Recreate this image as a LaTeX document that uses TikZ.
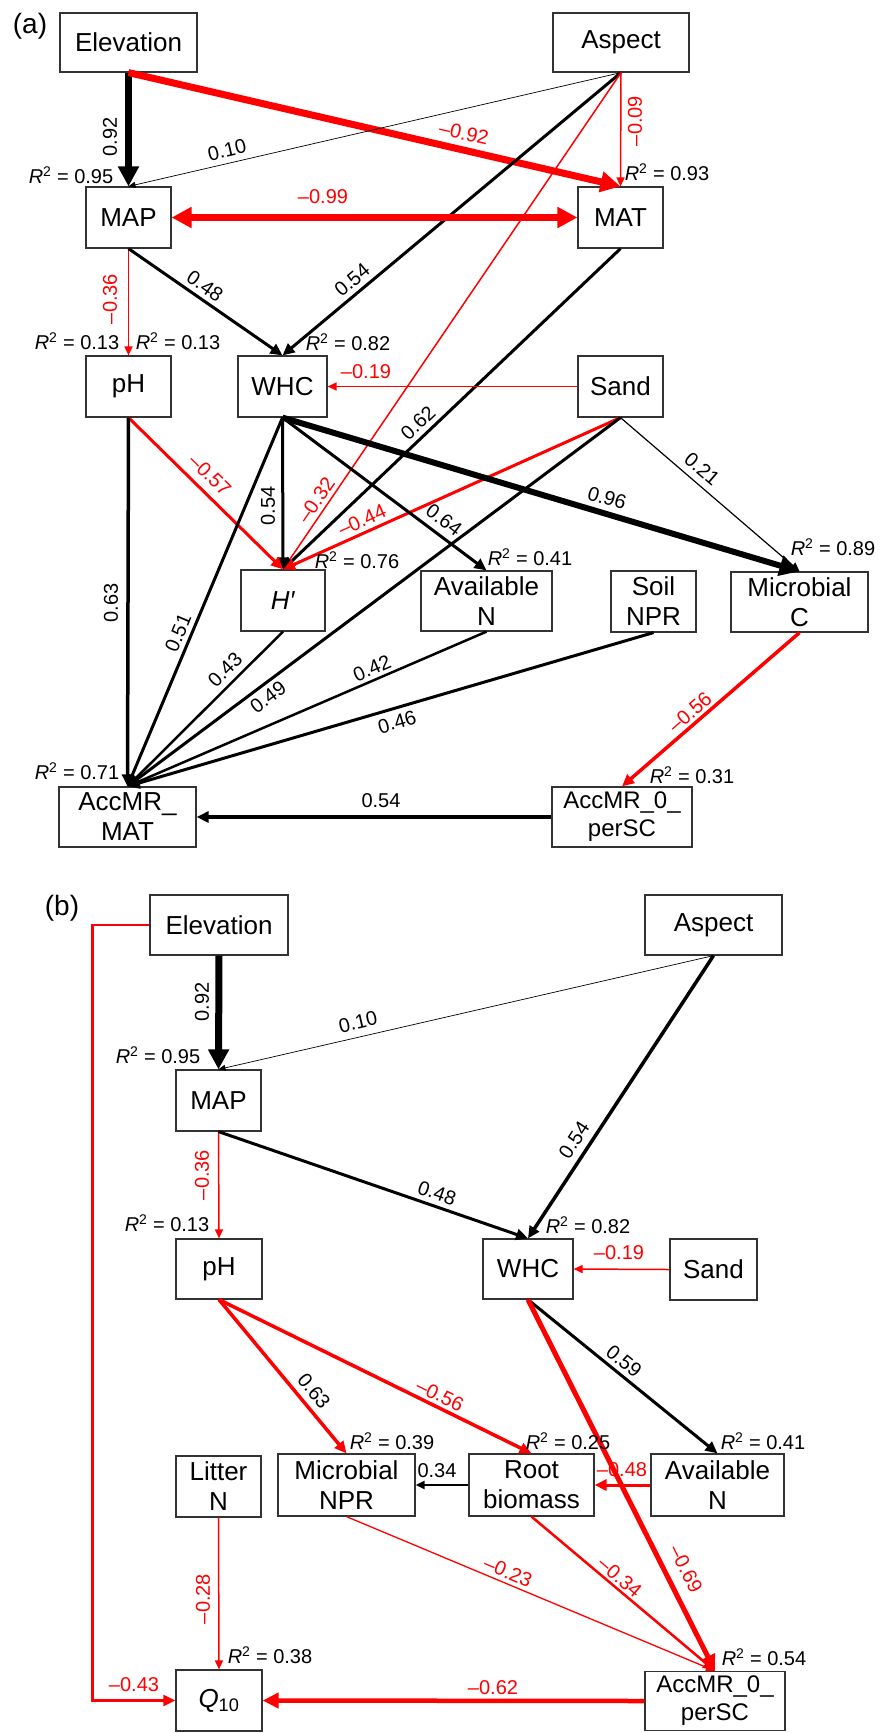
\documentclass[tikz,border=0pt]{standalone}
\usepackage{fontspec}
\setmainfont{Liberation Sans}
\usetikzlibrary{arrows.meta}
\definecolor{sred}{RGB}{255,0,0}
\newcommand\bfnt{\fontsize{26}{30}\selectfont}
\newcommand\sfnt{\fontsize{24}{28}\selectfont}
\newcommand\lfnt{\fontsize{20}{24}\selectfont}
\newcommand\pfnt{\fontsize{28}{32}\selectfont}
\newcommand\Rsq[1]{\textit{R}\textsuperscript{2} = #1}
\begin{document}
\begin{tikzpicture}[x=1pt,y=-1pt,
  box/.style={draw=black!80, line width=1.2pt, fill=white, inner sep=0pt, align=center, font=\bfnt},
  lab/.style={inner sep=0pt, font=\lfnt},
  tA/.style={-{Triangle[length=7pt,width=6pt]}},
  tB/.style={-{Triangle[length=9pt,width=8pt]}},
  tC/.style={-{Triangle[length=12pt,width=11pt]}},
  tD/.style={-{Triangle[length=16pt,width=15pt]}},
  tE/.style={-{Triangle[length=20pt,width=20pt]}}]
\fill[white] (0,0) rectangle (879,1733);
\useasboundingbox (0,0) rectangle (879,1733);

% ---------------- panel (a) nodes
\node[inner sep=0pt, font=\pfnt] (pa) at (30,26) {(a)};
\node[box, minimum width=137pt, minimum height=59pt] (elevA) at (128.5,42.5) {Elevation};
\node[box, minimum width=136pt, minimum height=59pt] (aspA) at (621,42.5) {Aspect};
\node[box, minimum width=85pt, minimum height=61pt] (mapA) at (128.5,217.5) {MAP};
\node[box, minimum width=85pt, minimum height=61pt] (matA) at (620.5,217.5) {MAT};
\node[box, minimum width=85pt, minimum height=61pt] (phA) at (128.5,386.5) {pH};
\node[box, minimum width=89pt, minimum height=61pt] (whcA) at (282.5,386.5) {WHC};
\node[box, minimum width=85pt, minimum height=61pt] (sandA) at (620.5,386.5) {Sand};
\node[box, minimum width=84pt, minimum height=61pt] (hA) at (283,600.5) {\textit{H′}};
\node[box, minimum width=131pt, minimum height=60pt] (avnA) at (486.5,601) {Available\\N};
\node[box, minimum width=85pt, minimum height=61pt] (nprA) at (653.5,601.5) {Soil\\NPR};
\node[box, minimum width=137pt, minimum height=60pt] (micA) at (799.5,602) {Microbial\\C};
\node[box, minimum width=137pt, minimum height=60pt] (accMAT) at (127.5,817) {AccMR\_\\MAT};
\node[box, minimum width=140pt, minimum height=60pt, font=\sfnt] (acc0A) at (622,817) {AccMR\_0\_\\perSC};

% ---------------- panel (a) edges
\draw[black, line width=7pt, tE] (elevA.south) -- (mapA.north);
\draw[sred, line width=7pt, tE] (elevA.south) -- (matA.north);
\draw[black, line width=0.7pt, tA] (aspA.south) -- (mapA.north);
\draw[black, line width=3pt, tC] (aspA.south) -- (whcA.north);
\draw[sred, line width=1.5pt, tB] (aspA.south) -- (matA.north);
\draw[sred, line width=1.5pt, tB] (aspA.south) -- (hA.north);
\draw[sred, line width=6.5pt, {Triangle[length=20pt,width=20pt]}-{Triangle[length=20pt,width=20pt]}] (mapA.east) -- (matA.west);
\draw[sred, line width=1.5pt, tB] (mapA.south) -- (phA.north);
\draw[black, line width=3pt, tC] (mapA.south) -- (whcA.north);
\draw[black, line width=3pt, tC] (matA.south) -- (hA.north);
\draw[sred, line width=1.5pt, tB] (sandA.west) -- (whcA.east);
\draw[black, line width=3pt, tC] (whcA.south) -- (hA.north);
\draw[sred, line width=3pt, tC] (phA.south) -- (hA.north);
\draw[sred, line width=3pt, tC] (sandA.south) -- (hA.north);
\draw[black, line width=3pt, tC] (whcA.south) -- (avnA.north);
\draw[black, line width=6pt, tE] (whcA.south) -- (micA.north);
\draw[black, line width=1.2pt, tB] (sandA.south) -- (micA.north);
\draw[sred, line width=3.5pt, tC] (micA.south) -- (acc0A.north);
\draw[black, line width=3.5pt, tC] (phA.south) -- (accMAT.north);
\draw[black, line width=3pt, tC] (whcA.south) -- (accMAT.north);
\draw[black, line width=2.5pt, tC] (hA.south) -- (accMAT.north);
\draw[black, line width=3pt, tC] (sandA.south) -- (accMAT.north);
\draw[black, line width=2.5pt, tC] (avnA.south) -- (accMAT.north);
\draw[black, line width=3pt, tC] (nprA.south) -- (accMAT.north);
\draw[black, line width=3.5pt, tC] (acc0A.west) -- (accMAT.east);

% ---------------- panel (a) labels
\node[lab, rotate=90] (la1) at (110,137) {0.92};
\node[lab] (ra1) at (71,175) {\Rsq{0.95}};
\node[lab, text=sred, rotate=-13.1] (la2) at (464,133) {--0.92};
\node[lab, rotate=13.1] (la3) at (227,150) {0.10};
\node[lab, text=sred, rotate=90] (la4) at (635,121) {--0.09};
\node[lab] (ra2) at (667,172) {\Rsq{0.93}};
\node[lab, text=sred] (la5) at (323,197) {--0.99};
\node[lab, rotate=40] (la6) at (352,280) {0.54};
\node[lab, rotate=-35] (la7) at (205,286) {0.48};
\node[lab, text=sred, rotate=90] (la8) at (110,299) {--0.36};
\node[lab] (ra3) at (77,341) {\Rsq{0.13}};
\node[lab] (ra4) at (178,341) {\Rsq{0.13}};
\node[lab] (ra5) at (348,342) {\Rsq{0.82}};
\node[lab, text=sred] (la9) at (366,372) {--0.19};
\node[lab, rotate=43.6] (la10) at (418,423) {0.62};
\node[lab, text=sred, rotate=-44.6] (la11) at (210,475) {--0.57};
\node[lab, rotate=90] (la12) at (268,506) {0.54};
\node[lab, text=sred, rotate=55.8] (la13) at (316,500) {--0.32};
\node[lab, text=sred, rotate=24.4] (la14) at (362,520) {--0.44};
\node[lab, rotate=-37] (la15) at (444,520) {0.64};
\node[lab, rotate=-16.7] (la16) at (607,498) {0.96};
\node[lab, rotate=-40.9] (la17) at (702,469) {0.21};
\node[lab] (ra6) at (357,560) {\Rsq{0.76}};
\node[lab] (ra7) at (530,557) {\Rsq{0.41}};
\node[lab] (ra8) at (833,547) {\Rsq{0.89}};
\node[lab, rotate=90] (la18) at (111,603) {0.63};
\node[lab, rotate=67.3] (la19) at (178,633) {0.51};
\node[lab, rotate=45] (la20) at (225,670) {0.43};
\node[lab, rotate=36.8] (la21) at (268,697) {0.49};
\node[lab, rotate=23.4] (la22) at (372,668) {0.42};
\node[lab, rotate=16.3] (la23) at (397,722) {0.46};
\node[lab, text=sred, rotate=41.2] (la24) at (690,712) {--0.56};
\node[lab] (ra9) at (77,771) {\Rsq{0.71}};
\node[lab] (ra10) at (692,775) {\Rsq{0.31}};
\node[lab] (la25) at (381,801) {0.54};

% ---------------- panel (b) nodes
\node[inner sep=0pt, font=\pfnt] (pb) at (62,908) {(b)};
\node[box, minimum width=138pt, minimum height=60pt] (elevB) at (219,925) {Elevation};
\node[box, minimum width=137pt, minimum height=60pt] (aspB) at (713.5,925) {Aspect};
\node[box, minimum width=85pt, minimum height=61pt] (mapB) at (218.5,1100.5) {MAP};
\node[box, minimum width=86pt, minimum height=60pt] (phB) at (219,1269) {pH};
\node[box, minimum width=90pt, minimum height=60pt] (whcB) at (528,1269) {WHC};
\node[box, minimum width=87pt, minimum height=61pt] (sandB) at (713.5,1269.5) {Sand};
\node[box, minimum width=85pt, minimum height=61pt] (litB) at (218.5,1486.5) {Litter\\N};
\node[box, minimum width=137pt, minimum height=62pt] (mnprB) at (346.5,1485) {Microbial\\NPR};
\node[box, minimum width=125pt, minimum height=62pt] (rootB) at (531.5,1485) {Root\\biomass};
\node[box, minimum width=133pt, minimum height=62pt] (avnB) at (717.5,1485) {Available\\N};
\node[box, minimum width=86pt, minimum height=61pt] (q10) at (219,1700.5) {\textit{Q}\textsubscript{10}};
\node[box, minimum width=140pt, minimum height=59pt, font=\sfnt] (acc0B) at (715,1701) {AccMR\_0\_\\perSC};

% ---------------- panel (b) edges
\draw[black, line width=7pt, tE] (elevB.south) -- (mapB.north);
\draw[black, line width=0.7pt, tA] (aspB.south) -- (mapB.north);
\draw[black, line width=3.5pt, tC] (aspB.south) -- (whcB.north);
\draw[sred, line width=1.5pt, tB] (mapB.south) -- (phB.north);
\draw[black, line width=3pt, tC] (mapB.south) -- (whcB.north);
\draw[sred, line width=1.5pt, tB] (sandB.west) -- (whcB.east);
\draw[sred, line width=3.5pt, tC] (phB.south) -- (mnprB.north);
\draw[sred, line width=3.5pt, tC] (phB.south) -- (rootB.north);
\draw[black, line width=3pt, tC] (whcB.south) -- (avnB.north);
\draw[sred, line width=2.5pt, tC] (rootB.south) -- (acc0B.north);
\draw[sred, line width=1.3pt, tB] (mnprB.south) -- (acc0B.north);
\draw[sred, line width=5pt, tD] (whcB.south) -- (acc0B.north);
\draw[sred, line width=3pt, tC] (avnB.west) -- (rootB.east);
\draw[black, line width=2.5pt, tB] (rootB.west) -- (mnprB.east);
\draw[sred, line width=1.5pt, tB] (litB.south) -- (q10.north);
\draw[sred, line width=2.5pt, tC] (elevB.west) -- ++(-57,0) |- (q10.west);
\draw[sred, line width=4.5pt, tD] (acc0B.west) -- (q10.east);

% ---------------- panel (b) labels
\node[lab, rotate=90] (lb1) at (202,1002) {0.92};
\node[lab] (rb1) at (158,1055) {\Rsq{0.95}};
\node[lab, rotate=13.1] (lb2) at (358,1022) {0.10};
\node[lab, rotate=56.9] (lb3) at (574,1140) {0.54};
\node[lab, text=sred, rotate=90] (lb4) at (202,1175) {--0.36};
\node[lab] (rb2) at (167,1223) {\Rsq{0.13}};
\node[lab, rotate=-19.3] (lb5) at (437,1193) {0.48};
\node[lab] (rb3) at (588,1225) {\Rsq{0.82}};
\node[lab, text=sred] (lb6) at (619,1253) {--0.19};
\node[lab, rotate=-39.2] (lb7) at (624,1361) {0.59};
\node[lab, rotate=-50.7] (lb8) at (314,1391) {0.63};
\node[lab, text=sred, rotate=-26.3] (lb9) at (440,1395) {--0.56};
\node[lab] (rb4) at (392,1441) {\Rsq{0.39}};
\node[lab] (rb5) at (568,1441) {\Rsq{0.25}};
\node[lab] (rb6) at (763,1441) {\Rsq{0.41}};
\node[lab] (lb10) at (437,1471) {0.34};
\node[lab, text=sred] (lb11) at (622,1470) {--0.48};
\node[lab, text=sred, rotate=-23] (lb12) at (508,1572) {--0.23};
\node[lab, text=sred, rotate=-40.6] (lb13) at (620,1577) {--0.34};
\node[lab, text=sred, rotate=-63.4] (lb14) at (686,1569) {--0.69};
\node[lab, text=sred, rotate=90] (lb15) at (203,1599) {--0.28};
\node[lab] (rb7) at (270,1655) {\Rsq{0.38}};
\node[lab] (rb8) at (764,1657) {\Rsq{0.54}};
\node[lab, text=sred] (lb16) at (134,1685) {--0.43};
\node[lab, text=sred] (lb17) at (493,1688) {--0.62};
\end{tikzpicture}
\end{document}
